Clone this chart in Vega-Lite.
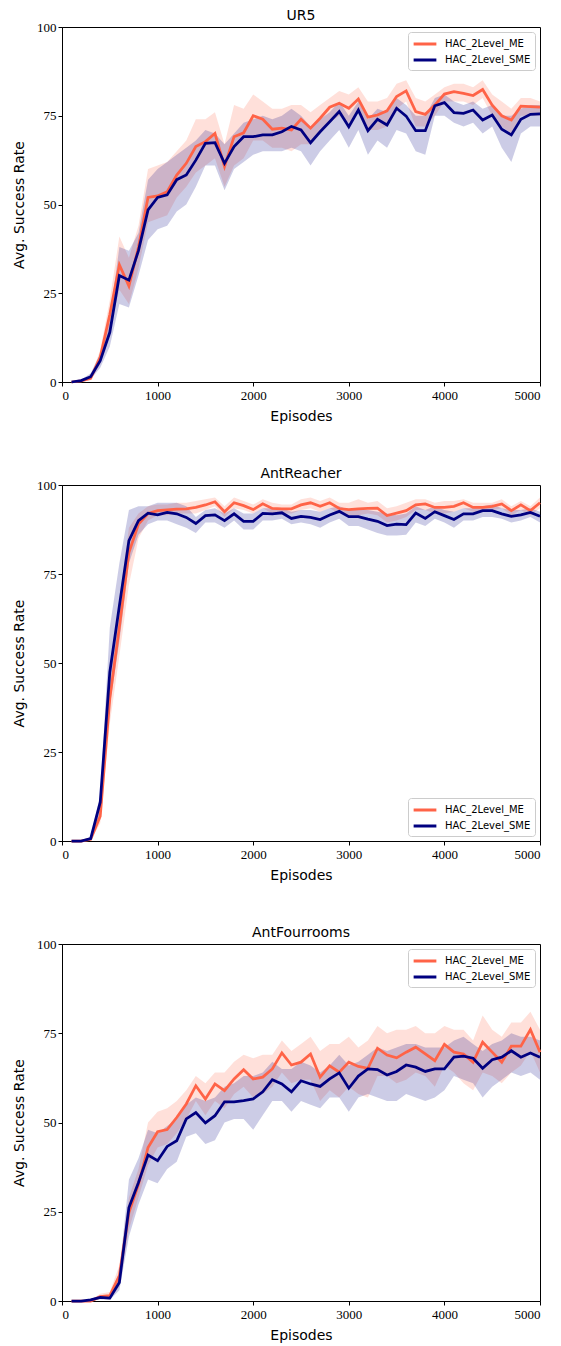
{
  "$schema": "https://vega.github.io/schema/vega-lite/v6.json",
  "padding": {"left": 12, "top": 8, "right": 6, "bottom": 5},
  "background": "white",
  "spacing": 42,
  "config": {
    "view": {"stroke": "black", "strokeWidth": 1},
    "axis": {"labelFont": "Liberation Serif", "labelFontSize": 13, "labelColor": "black", "titleFont": "DejaVu Sans", "titleFontSize": 14, "titleFontWeight": "normal", "titleColor": "black", "tickColor": "black", "domainColor": "black", "tickSize": 4, "labelPadding": 2, "grid": false},
    "title": {"font": "DejaVu Sans", "fontSize": 14, "fontWeight": "normal", "color": "black", "offset": -2},
    "legend": {"labelFont": "DejaVu Sans", "labelFontSize": 10, "labelColor": "black", "strokeColor": "#cccccc", "fillColor": "white", "cornerRadius": 3, "padding": 4, "rowPadding": 2, "symbolSize": 169, "symbolType": "M-1.75,0H1.75", "symbolStrokeWidth": 3, "labelOffset": 12, "symbolOffset": 5, "offset": 5}
  },
  "data": {"values": [
{"e":"UR5","s":"HAC_2Level_ME","x":100,"m":0,"l":0,"h":0},
{"e":"UR5","s":"HAC_2Level_ME","x":200,"m":0.3,"l":0,"h":0.5},
{"e":"UR5","s":"HAC_2Level_ME","x":300,"m":1,"l":0.5,"h":1.5},
{"e":"UR5","s":"HAC_2Level_ME","x":400,"m":7,"l":5,"h":9},
{"e":"UR5","s":"HAC_2Level_ME","x":500,"m":19,"l":15,"h":23},
{"e":"UR5","s":"HAC_2Level_ME","x":600,"m":33,"l":26,"h":41},
{"e":"UR5","s":"HAC_2Level_ME","x":700,"m":27,"l":22,"h":35},
{"e":"UR5","s":"HAC_2Level_ME","x":800,"m":38,"l":32,"h":44},
{"e":"UR5","s":"HAC_2Level_ME","x":900,"m":52,"l":45,"h":60},
{"e":"UR5","s":"HAC_2Level_ME","x":1000,"m":52.4,"l":46,"h":61},
{"e":"UR5","s":"HAC_2Level_ME","x":1100,"m":53.6,"l":47,"h":62},
{"e":"UR5","s":"HAC_2Level_ME","x":1200,"m":58.3,"l":52,"h":65},
{"e":"UR5","s":"HAC_2Level_ME","x":1300,"m":61.6,"l":55,"h":68},
{"e":"UR5","s":"HAC_2Level_ME","x":1400,"m":66.3,"l":59,"h":74},
{"e":"UR5","s":"HAC_2Level_ME","x":1500,"m":67.7,"l":61,"h":74},
{"e":"UR5","s":"HAC_2Level_ME","x":1600,"m":70,"l":63,"h":76},
{"e":"UR5","s":"HAC_2Level_ME","x":1700,"m":60.7,"l":55,"h":67},
{"e":"UR5","s":"HAC_2Level_ME","x":1800,"m":69.1,"l":61,"h":78},
{"e":"UR5","s":"HAC_2Level_ME","x":1900,"m":70.2,"l":63,"h":77},
{"e":"UR5","s":"HAC_2Level_ME","x":2000,"m":75,"l":68,"h":81},
{"e":"UR5","s":"HAC_2Level_ME","x":2100,"m":74,"l":68,"h":79},
{"e":"UR5","s":"HAC_2Level_ME","x":2200,"m":71.2,"l":66,"h":77},
{"e":"UR5","s":"HAC_2Level_ME","x":2300,"m":71.5,"l":66,"h":77},
{"e":"UR5","s":"HAC_2Level_ME","x":2400,"m":71,"l":65,"h":78},
{"e":"UR5","s":"HAC_2Level_ME","x":2500,"m":74,"l":67,"h":78},
{"e":"UR5","s":"HAC_2Level_ME","x":2600,"m":71.5,"l":67,"h":76},
{"e":"UR5","s":"HAC_2Level_ME","x":2700,"m":74.3,"l":70,"h":78},
{"e":"UR5","s":"HAC_2Level_ME","x":2800,"m":77.4,"l":73,"h":80},
{"e":"UR5","s":"HAC_2Level_ME","x":2900,"m":78.5,"l":75,"h":82},
{"e":"UR5","s":"HAC_2Level_ME","x":3000,"m":77.1,"l":73,"h":81},
{"e":"UR5","s":"HAC_2Level_ME","x":3100,"m":79.7,"l":76,"h":83},
{"e":"UR5","s":"HAC_2Level_ME","x":3200,"m":74.6,"l":71,"h":79},
{"e":"UR5","s":"HAC_2Level_ME","x":3300,"m":75.2,"l":71,"h":79},
{"e":"UR5","s":"HAC_2Level_ME","x":3400,"m":76.4,"l":72,"h":80},
{"e":"UR5","s":"HAC_2Level_ME","x":3500,"m":80.4,"l":77,"h":84},
{"e":"UR5","s":"HAC_2Level_ME","x":3600,"m":82,"l":79,"h":85},
{"e":"UR5","s":"HAC_2Level_ME","x":3700,"m":76.2,"l":72,"h":80},
{"e":"UR5","s":"HAC_2Level_ME","x":3800,"m":75.4,"l":72,"h":79},
{"e":"UR5","s":"HAC_2Level_ME","x":3900,"m":78,"l":75,"h":81},
{"e":"UR5","s":"HAC_2Level_ME","x":4000,"m":81.1,"l":79,"h":83},
{"e":"UR5","s":"HAC_2Level_ME","x":4100,"m":81.8,"l":79,"h":84},
{"e":"UR5","s":"HAC_2Level_ME","x":4200,"m":81.3,"l":79,"h":84},
{"e":"UR5","s":"HAC_2Level_ME","x":4300,"m":80.7,"l":78,"h":83},
{"e":"UR5","s":"HAC_2Level_ME","x":4400,"m":82.4,"l":80,"h":85},
{"e":"UR5","s":"HAC_2Level_ME","x":4500,"m":78,"l":75,"h":81},
{"e":"UR5","s":"HAC_2Level_ME","x":4600,"m":75,"l":72,"h":79},
{"e":"UR5","s":"HAC_2Level_ME","x":4700,"m":73.8,"l":70,"h":77},
{"e":"UR5","s":"HAC_2Level_ME","x":4800,"m":77.7,"l":75,"h":80},
{"e":"UR5","s":"HAC_2Level_ME","x":4900,"m":77.6,"l":75,"h":80},
{"e":"UR5","s":"HAC_2Level_ME","x":5000,"m":77.4,"l":75,"h":79},
{"e":"UR5","s":"HAC_2Level_SME","x":100,"m":0,"l":0,"h":0},
{"e":"UR5","s":"HAC_2Level_SME","x":200,"m":0.4,"l":0.2,"h":0.6},
{"e":"UR5","s":"HAC_2Level_SME","x":300,"m":1.5,"l":0.8,"h":2.5},
{"e":"UR5","s":"HAC_2Level_SME","x":400,"m":6,"l":4,"h":8},
{"e":"UR5","s":"HAC_2Level_SME","x":500,"m":14,"l":10,"h":18},
{"e":"UR5","s":"HAC_2Level_SME","x":600,"m":30,"l":22,"h":38},
{"e":"UR5","s":"HAC_2Level_SME","x":700,"m":28.7,"l":21,"h":37},
{"e":"UR5","s":"HAC_2Level_SME","x":800,"m":37,"l":30,"h":42},
{"e":"UR5","s":"HAC_2Level_SME","x":900,"m":48.5,"l":40,"h":57},
{"e":"UR5","s":"HAC_2Level_SME","x":1000,"m":52,"l":43,"h":60},
{"e":"UR5","s":"HAC_2Level_SME","x":1100,"m":52.7,"l":44,"h":62},
{"e":"UR5","s":"HAC_2Level_SME","x":1200,"m":57,"l":48,"h":64},
{"e":"UR5","s":"HAC_2Level_SME","x":1300,"m":58.3,"l":50,"h":66},
{"e":"UR5","s":"HAC_2Level_SME","x":1400,"m":62.5,"l":55,"h":68},
{"e":"UR5","s":"HAC_2Level_SME","x":1500,"m":67.2,"l":61,"h":71},
{"e":"UR5","s":"HAC_2Level_SME","x":1600,"m":67.4,"l":61,"h":70},
{"e":"UR5","s":"HAC_2Level_SME","x":1700,"m":61.6,"l":54,"h":67},
{"e":"UR5","s":"HAC_2Level_SME","x":1800,"m":66.3,"l":60,"h":70},
{"e":"UR5","s":"HAC_2Level_SME","x":1900,"m":69.1,"l":62,"h":73},
{"e":"UR5","s":"HAC_2Level_SME","x":2000,"m":69.1,"l":64,"h":74},
{"e":"UR5","s":"HAC_2Level_SME","x":2100,"m":69.6,"l":65,"h":75},
{"e":"UR5","s":"HAC_2Level_SME","x":2200,"m":69.6,"l":65,"h":74},
{"e":"UR5","s":"HAC_2Level_SME","x":2300,"m":70.5,"l":65,"h":75},
{"e":"UR5","s":"HAC_2Level_SME","x":2400,"m":72,"l":66,"h":77},
{"e":"UR5","s":"HAC_2Level_SME","x":2500,"m":71,"l":65,"h":75},
{"e":"UR5","s":"HAC_2Level_SME","x":2600,"m":67.4,"l":61,"h":72},
{"e":"UR5","s":"HAC_2Level_SME","x":2700,"m":70.5,"l":65,"h":74},
{"e":"UR5","s":"HAC_2Level_SME","x":2800,"m":73.3,"l":68,"h":76},
{"e":"UR5","s":"HAC_2Level_SME","x":2900,"m":76.2,"l":71,"h":79},
{"e":"UR5","s":"HAC_2Level_SME","x":3000,"m":71.9,"l":66,"h":75},
{"e":"UR5","s":"HAC_2Level_SME","x":3100,"m":76.6,"l":71,"h":79},
{"e":"UR5","s":"HAC_2Level_SME","x":3200,"m":70.8,"l":64,"h":74},
{"e":"UR5","s":"HAC_2Level_SME","x":3300,"m":74,"l":68,"h":77},
{"e":"UR5","s":"HAC_2Level_SME","x":3400,"m":72.4,"l":66,"h":76},
{"e":"UR5","s":"HAC_2Level_SME","x":3500,"m":77.1,"l":71,"h":80},
{"e":"UR5","s":"HAC_2Level_SME","x":3600,"m":74.9,"l":70,"h":78},
{"e":"UR5","s":"HAC_2Level_SME","x":3700,"m":70.8,"l":65,"h":75},
{"e":"UR5","s":"HAC_2Level_SME","x":3800,"m":70.8,"l":64,"h":75},
{"e":"UR5","s":"HAC_2Level_SME","x":3900,"m":77.8,"l":75,"h":80},
{"e":"UR5","s":"HAC_2Level_SME","x":4000,"m":78.7,"l":75,"h":81},
{"e":"UR5","s":"HAC_2Level_SME","x":4100,"m":75.9,"l":73,"h":79},
{"e":"UR5","s":"HAC_2Level_SME","x":4200,"m":75.7,"l":72,"h":78},
{"e":"UR5","s":"HAC_2Level_SME","x":4300,"m":76.6,"l":73,"h":79},
{"e":"UR5","s":"HAC_2Level_SME","x":4400,"m":73.8,"l":70,"h":77},
{"e":"UR5","s":"HAC_2Level_SME","x":4500,"m":75.2,"l":72,"h":78},
{"e":"UR5","s":"HAC_2Level_SME","x":4600,"m":71.2,"l":66,"h":75},
{"e":"UR5","s":"HAC_2Level_SME","x":4700,"m":69.6,"l":62,"h":75},
{"e":"UR5","s":"HAC_2Level_SME","x":4800,"m":74,"l":70,"h":77},
{"e":"UR5","s":"HAC_2Level_SME","x":4900,"m":75.4,"l":72,"h":78},
{"e":"UR5","s":"HAC_2Level_SME","x":5000,"m":75.5,"l":72,"h":78},
{"e":"AntReacher","s":"HAC_2Level_ME","x":100,"m":0,"l":0,"h":0},
{"e":"AntReacher","s":"HAC_2Level_ME","x":200,"m":0,"l":0,"h":0},
{"e":"AntReacher","s":"HAC_2Level_ME","x":300,"m":0.5,"l":0.2,"h":0.8},
{"e":"AntReacher","s":"HAC_2Level_ME","x":400,"m":7,"l":5,"h":9},
{"e":"AntReacher","s":"HAC_2Level_ME","x":500,"m":40,"l":33,"h":45},
{"e":"AntReacher","s":"HAC_2Level_ME","x":600,"m":60,"l":52,"h":68},
{"e":"AntReacher","s":"HAC_2Level_ME","x":700,"m":81,"l":72,"h":88},
{"e":"AntReacher","s":"HAC_2Level_ME","x":800,"m":89,"l":85,"h":92},
{"e":"AntReacher","s":"HAC_2Level_ME","x":900,"m":92,"l":90,"h":94},
{"e":"AntReacher","s":"HAC_2Level_ME","x":1000,"m":92.8,"l":91.5,"h":94.5},
{"e":"AntReacher","s":"HAC_2Level_ME","x":1100,"m":93,"l":91.5,"h":94.5},
{"e":"AntReacher","s":"HAC_2Level_ME","x":1200,"m":93.2,"l":92,"h":95},
{"e":"AntReacher","s":"HAC_2Level_ME","x":1300,"m":93.3,"l":92,"h":95},
{"e":"AntReacher","s":"HAC_2Level_ME","x":1400,"m":93.7,"l":92,"h":95.5},
{"e":"AntReacher","s":"HAC_2Level_ME","x":1500,"m":94.4,"l":93,"h":96},
{"e":"AntReacher","s":"HAC_2Level_ME","x":1600,"m":95.3,"l":94,"h":96.5},
{"e":"AntReacher","s":"HAC_2Level_ME","x":1700,"m":92.5,"l":91,"h":94},
{"e":"AntReacher","s":"HAC_2Level_ME","x":1800,"m":95,"l":93.5,"h":96.5},
{"e":"AntReacher","s":"HAC_2Level_ME","x":1900,"m":94.2,"l":93,"h":95.5},
{"e":"AntReacher","s":"HAC_2Level_ME","x":2000,"m":93.1,"l":92,"h":94.5},
{"e":"AntReacher","s":"HAC_2Level_ME","x":2100,"m":94.7,"l":93.5,"h":96},
{"e":"AntReacher","s":"HAC_2Level_ME","x":2200,"m":93.4,"l":92,"h":95},
{"e":"AntReacher","s":"HAC_2Level_ME","x":2300,"m":93.3,"l":92,"h":94.5},
{"e":"AntReacher","s":"HAC_2Level_ME","x":2400,"m":93.3,"l":92,"h":94.5},
{"e":"AntReacher","s":"HAC_2Level_ME","x":2500,"m":94.4,"l":93,"h":96},
{"e":"AntReacher","s":"HAC_2Level_ME","x":2600,"m":95,"l":93.5,"h":96.5},
{"e":"AntReacher","s":"HAC_2Level_ME","x":2700,"m":94,"l":92.5,"h":95.5},
{"e":"AntReacher","s":"HAC_2Level_ME","x":2800,"m":95,"l":93.5,"h":96.5},
{"e":"AntReacher","s":"HAC_2Level_ME","x":2900,"m":93.4,"l":92,"h":95},
{"e":"AntReacher","s":"HAC_2Level_ME","x":3000,"m":93.1,"l":91.5,"h":95},
{"e":"AntReacher","s":"HAC_2Level_ME","x":3100,"m":93.3,"l":91.5,"h":96},
{"e":"AntReacher","s":"HAC_2Level_ME","x":3200,"m":93.4,"l":92,"h":95},
{"e":"AntReacher","s":"HAC_2Level_ME","x":3300,"m":93.5,"l":91.5,"h":95.5},
{"e":"AntReacher","s":"HAC_2Level_ME","x":3400,"m":91.4,"l":89.5,"h":93.5},
{"e":"AntReacher","s":"HAC_2Level_ME","x":3500,"m":92.1,"l":90,"h":94},
{"e":"AntReacher","s":"HAC_2Level_ME","x":3600,"m":92.8,"l":91,"h":95},
{"e":"AntReacher","s":"HAC_2Level_ME","x":3700,"m":94.4,"l":93,"h":96},
{"e":"AntReacher","s":"HAC_2Level_ME","x":3800,"m":94.7,"l":93,"h":96},
{"e":"AntReacher","s":"HAC_2Level_ME","x":3900,"m":93.7,"l":92,"h":95},
{"e":"AntReacher","s":"HAC_2Level_ME","x":4000,"m":93.7,"l":92,"h":95.5},
{"e":"AntReacher","s":"HAC_2Level_ME","x":4100,"m":94,"l":92.5,"h":95.5},
{"e":"AntReacher","s":"HAC_2Level_ME","x":4200,"m":95,"l":93.5,"h":96},
{"e":"AntReacher","s":"HAC_2Level_ME","x":4300,"m":93.7,"l":92.5,"h":95},
{"e":"AntReacher","s":"HAC_2Level_ME","x":4400,"m":93.7,"l":92.5,"h":95},
{"e":"AntReacher","s":"HAC_2Level_ME","x":4500,"m":94,"l":93,"h":95},
{"e":"AntReacher","s":"HAC_2Level_ME","x":4600,"m":94.7,"l":93.5,"h":96},
{"e":"AntReacher","s":"HAC_2Level_ME","x":4700,"m":92.8,"l":91.5,"h":94},
{"e":"AntReacher","s":"HAC_2Level_ME","x":4800,"m":94.4,"l":93,"h":95.5},
{"e":"AntReacher","s":"HAC_2Level_ME","x":4900,"m":92.8,"l":91.5,"h":94},
{"e":"AntReacher","s":"HAC_2Level_ME","x":5000,"m":95,"l":93.5,"h":96.5},
{"e":"AntReacher","s":"HAC_2Level_SME","x":100,"m":0,"l":0,"h":0},
{"e":"AntReacher","s":"HAC_2Level_SME","x":200,"m":0,"l":0,"h":0},
{"e":"AntReacher","s":"HAC_2Level_SME","x":300,"m":0.7,"l":0.3,"h":1.2},
{"e":"AntReacher","s":"HAC_2Level_SME","x":400,"m":10.9,"l":8,"h":13},
{"e":"AntReacher","s":"HAC_2Level_SME","x":500,"m":47.4,"l":38,"h":60},
{"e":"AntReacher","s":"HAC_2Level_SME","x":600,"m":66,"l":56,"h":78},
{"e":"AntReacher","s":"HAC_2Level_SME","x":700,"m":84.4,"l":78,"h":93},
{"e":"AntReacher","s":"HAC_2Level_SME","x":800,"m":90,"l":86,"h":94},
{"e":"AntReacher","s":"HAC_2Level_SME","x":900,"m":92.1,"l":89,"h":94},
{"e":"AntReacher","s":"HAC_2Level_SME","x":1000,"m":91.6,"l":90,"h":95},
{"e":"AntReacher","s":"HAC_2Level_SME","x":1100,"m":92.3,"l":90,"h":95},
{"e":"AntReacher","s":"HAC_2Level_SME","x":1200,"m":91.9,"l":89,"h":95},
{"e":"AntReacher","s":"HAC_2Level_SME","x":1300,"m":90.9,"l":88,"h":94},
{"e":"AntReacher","s":"HAC_2Level_SME","x":1400,"m":89.2,"l":86.5,"h":91},
{"e":"AntReacher","s":"HAC_2Level_SME","x":1500,"m":91.4,"l":89.5,"h":93},
{"e":"AntReacher","s":"HAC_2Level_SME","x":1600,"m":91.6,"l":89.5,"h":93.5},
{"e":"AntReacher","s":"HAC_2Level_SME","x":1700,"m":90,"l":88,"h":92},
{"e":"AntReacher","s":"HAC_2Level_SME","x":1800,"m":91.9,"l":90,"h":93.5},
{"e":"AntReacher","s":"HAC_2Level_SME","x":1900,"m":89.8,"l":87.5,"h":92},
{"e":"AntReacher","s":"HAC_2Level_SME","x":2000,"m":89.8,"l":87.5,"h":92},
{"e":"AntReacher","s":"HAC_2Level_SME","x":2100,"m":92,"l":90,"h":93.5},
{"e":"AntReacher","s":"HAC_2Level_SME","x":2200,"m":91.9,"l":90,"h":93.5},
{"e":"AntReacher","s":"HAC_2Level_SME","x":2300,"m":92.2,"l":90.5,"h":93.5},
{"e":"AntReacher","s":"HAC_2Level_SME","x":2400,"m":90.6,"l":89,"h":92.5},
{"e":"AntReacher","s":"HAC_2Level_SME","x":2500,"m":91.2,"l":89.5,"h":93},
{"e":"AntReacher","s":"HAC_2Level_SME","x":2600,"m":90.9,"l":89,"h":93},
{"e":"AntReacher","s":"HAC_2Level_SME","x":2700,"m":90.3,"l":88,"h":92.5},
{"e":"AntReacher","s":"HAC_2Level_SME","x":2800,"m":91.6,"l":89.5,"h":93.5},
{"e":"AntReacher","s":"HAC_2Level_SME","x":2900,"m":92.6,"l":90.5,"h":94},
{"e":"AntReacher","s":"HAC_2Level_SME","x":3000,"m":91.1,"l":88.5,"h":93},
{"e":"AntReacher","s":"HAC_2Level_SME","x":3100,"m":91.1,"l":88.5,"h":93},
{"e":"AntReacher","s":"HAC_2Level_SME","x":3200,"m":90.4,"l":87.5,"h":93},
{"e":"AntReacher","s":"HAC_2Level_SME","x":3300,"m":89.8,"l":86.5,"h":92.5},
{"e":"AntReacher","s":"HAC_2Level_SME","x":3400,"m":88.6,"l":85.8,"h":92},
{"e":"AntReacher","s":"HAC_2Level_SME","x":3500,"m":89,"l":85.8,"h":91.5},
{"e":"AntReacher","s":"HAC_2Level_SME","x":3600,"m":88.9,"l":86,"h":92},
{"e":"AntReacher","s":"HAC_2Level_SME","x":3700,"m":92.1,"l":89.5,"h":94},
{"e":"AntReacher","s":"HAC_2Level_SME","x":3800,"m":90.6,"l":88.5,"h":93},
{"e":"AntReacher","s":"HAC_2Level_SME","x":3900,"m":92.5,"l":90.5,"h":94},
{"e":"AntReacher","s":"HAC_2Level_SME","x":4000,"m":91.4,"l":89.5,"h":93},
{"e":"AntReacher","s":"HAC_2Level_SME","x":4100,"m":90.3,"l":88,"h":92.5},
{"e":"AntReacher","s":"HAC_2Level_SME","x":4200,"m":91.9,"l":90,"h":93.5},
{"e":"AntReacher","s":"HAC_2Level_SME","x":4300,"m":91.9,"l":90,"h":93.5},
{"e":"AntReacher","s":"HAC_2Level_SME","x":4400,"m":92.8,"l":91,"h":94},
{"e":"AntReacher","s":"HAC_2Level_SME","x":4500,"m":92.8,"l":91,"h":94.5},
{"e":"AntReacher","s":"HAC_2Level_SME","x":4600,"m":91.9,"l":90.5,"h":93.5},
{"e":"AntReacher","s":"HAC_2Level_SME","x":4700,"m":91.2,"l":89.5,"h":93},
{"e":"AntReacher","s":"HAC_2Level_SME","x":4800,"m":91.6,"l":90,"h":93},
{"e":"AntReacher","s":"HAC_2Level_SME","x":4900,"m":92.3,"l":91,"h":93.5},
{"e":"AntReacher","s":"HAC_2Level_SME","x":5000,"m":91.2,"l":89.5,"h":92.5},
{"e":"AntFourrooms","s":"HAC_2Level_ME","x":100,"m":0,"l":0,"h":0},
{"e":"AntFourrooms","s":"HAC_2Level_ME","x":200,"m":0,"l":0,"h":0},
{"e":"AntFourrooms","s":"HAC_2Level_ME","x":300,"m":0,"l":0,"h":0.2},
{"e":"AntFourrooms","s":"HAC_2Level_ME","x":400,"m":1.2,"l":0.5,"h":2},
{"e":"AntFourrooms","s":"HAC_2Level_ME","x":500,"m":1.5,"l":0.5,"h":2.5},
{"e":"AntFourrooms","s":"HAC_2Level_ME","x":600,"m":7.1,"l":4,"h":10},
{"e":"AntFourrooms","s":"HAC_2Level_ME","x":700,"m":24.8,"l":20,"h":29},
{"e":"AntFourrooms","s":"HAC_2Level_ME","x":800,"m":32.7,"l":29,"h":37},
{"e":"AntFourrooms","s":"HAC_2Level_ME","x":900,"m":43,"l":38,"h":50},
{"e":"AntFourrooms","s":"HAC_2Level_ME","x":1000,"m":47.4,"l":43,"h":53},
{"e":"AntFourrooms","s":"HAC_2Level_ME","x":1100,"m":48,"l":44,"h":54},
{"e":"AntFourrooms","s":"HAC_2Level_ME","x":1200,"m":51.4,"l":47,"h":56},
{"e":"AntFourrooms","s":"HAC_2Level_ME","x":1300,"m":55.2,"l":51,"h":59},
{"e":"AntFourrooms","s":"HAC_2Level_ME","x":1400,"m":60.3,"l":56,"h":63},
{"e":"AntFourrooms","s":"HAC_2Level_ME","x":1500,"m":56.6,"l":52,"h":61},
{"e":"AntFourrooms","s":"HAC_2Level_ME","x":1600,"m":60.8,"l":56,"h":64},
{"e":"AntFourrooms","s":"HAC_2Level_ME","x":1700,"m":58.9,"l":54,"h":64},
{"e":"AntFourrooms","s":"HAC_2Level_ME","x":1800,"m":62.2,"l":58,"h":67},
{"e":"AntFourrooms","s":"HAC_2Level_ME","x":1900,"m":64.8,"l":60,"h":69},
{"e":"AntFourrooms","s":"HAC_2Level_ME","x":2000,"m":62.2,"l":57,"h":68},
{"e":"AntFourrooms","s":"HAC_2Level_ME","x":2100,"m":62.7,"l":58,"h":69},
{"e":"AntFourrooms","s":"HAC_2Level_ME","x":2200,"m":65,"l":60,"h":69},
{"e":"AntFourrooms","s":"HAC_2Level_ME","x":2300,"m":69.5,"l":64,"h":73},
{"e":"AntFourrooms","s":"HAC_2Level_ME","x":2400,"m":66.1,"l":61,"h":70},
{"e":"AntFourrooms","s":"HAC_2Level_ME","x":2500,"m":66.9,"l":62,"h":72},
{"e":"AntFourrooms","s":"HAC_2Level_ME","x":2600,"m":69.2,"l":62,"h":74},
{"e":"AntFourrooms","s":"HAC_2Level_ME","x":2700,"m":62.7,"l":56,"h":70},
{"e":"AntFourrooms","s":"HAC_2Level_ME","x":2800,"m":65.9,"l":59,"h":72},
{"e":"AntFourrooms","s":"HAC_2Level_ME","x":2900,"m":64.1,"l":57,"h":72},
{"e":"AntFourrooms","s":"HAC_2Level_ME","x":3000,"m":66.9,"l":60,"h":74},
{"e":"AntFourrooms","s":"HAC_2Level_ME","x":3100,"m":65.7,"l":58,"h":71},
{"e":"AntFourrooms","s":"HAC_2Level_ME","x":3200,"m":65.2,"l":57,"h":73},
{"e":"AntFourrooms","s":"HAC_2Level_ME","x":3300,"m":70.8,"l":63,"h":77},
{"e":"AntFourrooms","s":"HAC_2Level_ME","x":3400,"m":68.9,"l":63,"h":75},
{"e":"AntFourrooms","s":"HAC_2Level_ME","x":3500,"m":68.1,"l":61,"h":76},
{"e":"AntFourrooms","s":"HAC_2Level_ME","x":3600,"m":69.7,"l":62,"h":76},
{"e":"AntFourrooms","s":"HAC_2Level_ME","x":3700,"m":71.1,"l":64,"h":77},
{"e":"AntFourrooms","s":"HAC_2Level_ME","x":3800,"m":69.2,"l":63,"h":75},
{"e":"AntFourrooms","s":"HAC_2Level_ME","x":3900,"m":67.3,"l":60,"h":75},
{"e":"AntFourrooms","s":"HAC_2Level_ME","x":4000,"m":71.9,"l":66,"h":77},
{"e":"AntFourrooms","s":"HAC_2Level_ME","x":4100,"m":69.7,"l":64,"h":76},
{"e":"AntFourrooms","s":"HAC_2Level_ME","x":4200,"m":69.2,"l":61,"h":76},
{"e":"AntFourrooms","s":"HAC_2Level_ME","x":4300,"m":66.9,"l":59,"h":73},
{"e":"AntFourrooms","s":"HAC_2Level_ME","x":4400,"m":72.5,"l":64,"h":80},
{"e":"AntFourrooms","s":"HAC_2Level_ME","x":4500,"m":69.7,"l":63,"h":76},
{"e":"AntFourrooms","s":"HAC_2Level_ME","x":4600,"m":66.9,"l":61,"h":74},
{"e":"AntFourrooms","s":"HAC_2Level_ME","x":4700,"m":71.4,"l":64,"h":78},
{"e":"AntFourrooms","s":"HAC_2Level_ME","x":4800,"m":71.4,"l":66,"h":78},
{"e":"AntFourrooms","s":"HAC_2Level_ME","x":4900,"m":76,"l":70,"h":81},
{"e":"AntFourrooms","s":"HAC_2Level_ME","x":5000,"m":69.7,"l":64,"h":76},
{"e":"AntFourrooms","s":"HAC_2Level_SME","x":100,"m":0,"l":0,"h":0},
{"e":"AntFourrooms","s":"HAC_2Level_SME","x":200,"m":0,"l":0,"h":0},
{"e":"AntFourrooms","s":"HAC_2Level_SME","x":300,"m":0.3,"l":0,"h":0.6},
{"e":"AntFourrooms","s":"HAC_2Level_SME","x":400,"m":1,"l":0.5,"h":1.5},
{"e":"AntFourrooms","s":"HAC_2Level_SME","x":500,"m":0.8,"l":0.3,"h":1.5},
{"e":"AntFourrooms","s":"HAC_2Level_SME","x":600,"m":5.2,"l":3,"h":8},
{"e":"AntFourrooms","s":"HAC_2Level_SME","x":700,"m":26.2,"l":18,"h":34},
{"e":"AntFourrooms","s":"HAC_2Level_SME","x":800,"m":33.2,"l":27,"h":40},
{"e":"AntFourrooms","s":"HAC_2Level_SME","x":900,"m":40.9,"l":34,"h":48},
{"e":"AntFourrooms","s":"HAC_2Level_SME","x":1000,"m":39.3,"l":33,"h":47},
{"e":"AntFourrooms","s":"HAC_2Level_SME","x":1100,"m":43.3,"l":37,"h":49},
{"e":"AntFourrooms","s":"HAC_2Level_SME","x":1200,"m":44.9,"l":39,"h":51},
{"e":"AntFourrooms","s":"HAC_2Level_SME","x":1300,"m":51,"l":46,"h":55},
{"e":"AntFourrooms","s":"HAC_2Level_SME","x":1400,"m":52.8,"l":47,"h":57},
{"e":"AntFourrooms","s":"HAC_2Level_SME","x":1500,"m":49.9,"l":44,"h":56},
{"e":"AntFourrooms","s":"HAC_2Level_SME","x":1600,"m":51.9,"l":45,"h":57},
{"e":"AntFourrooms","s":"HAC_2Level_SME","x":1700,"m":55.8,"l":50,"h":60},
{"e":"AntFourrooms","s":"HAC_2Level_SME","x":1800,"m":55.8,"l":51,"h":61},
{"e":"AntFourrooms","s":"HAC_2Level_SME","x":1900,"m":56.1,"l":51,"h":63},
{"e":"AntFourrooms","s":"HAC_2Level_SME","x":2000,"m":56.6,"l":48,"h":63},
{"e":"AntFourrooms","s":"HAC_2Level_SME","x":2100,"m":58.6,"l":52,"h":64},
{"e":"AntFourrooms","s":"HAC_2Level_SME","x":2200,"m":62,"l":56,"h":67},
{"e":"AntFourrooms","s":"HAC_2Level_SME","x":2300,"m":60.8,"l":56,"h":65},
{"e":"AntFourrooms","s":"HAC_2Level_SME","x":2400,"m":58.6,"l":53,"h":65},
{"e":"AntFourrooms","s":"HAC_2Level_SME","x":2500,"m":61.7,"l":56,"h":67},
{"e":"AntFourrooms","s":"HAC_2Level_SME","x":2600,"m":60.8,"l":55,"h":66},
{"e":"AntFourrooms","s":"HAC_2Level_SME","x":2700,"m":60.1,"l":54,"h":64},
{"e":"AntFourrooms","s":"HAC_2Level_SME","x":2800,"m":62.2,"l":57,"h":66},
{"e":"AntFourrooms","s":"HAC_2Level_SME","x":2900,"m":63.9,"l":57,"h":69},
{"e":"AntFourrooms","s":"HAC_2Level_SME","x":3000,"m":59.6,"l":53,"h":66},
{"e":"AntFourrooms","s":"HAC_2Level_SME","x":3100,"m":63,"l":57,"h":67},
{"e":"AntFourrooms","s":"HAC_2Level_SME","x":3200,"m":65,"l":58,"h":69},
{"e":"AntFourrooms","s":"HAC_2Level_SME","x":3300,"m":64.8,"l":57,"h":71},
{"e":"AntFourrooms","s":"HAC_2Level_SME","x":3400,"m":63.3,"l":56,"h":70},
{"e":"AntFourrooms","s":"HAC_2Level_SME","x":3500,"m":64.3,"l":56,"h":71},
{"e":"AntFourrooms","s":"HAC_2Level_SME","x":3600,"m":66.1,"l":58,"h":72},
{"e":"AntFourrooms","s":"HAC_2Level_SME","x":3700,"m":65.5,"l":57,"h":72},
{"e":"AntFourrooms","s":"HAC_2Level_SME","x":3800,"m":64.3,"l":56,"h":71},
{"e":"AntFourrooms","s":"HAC_2Level_SME","x":3900,"m":65,"l":57,"h":71},
{"e":"AntFourrooms","s":"HAC_2Level_SME","x":4000,"m":65,"l":59,"h":71},
{"e":"AntFourrooms","s":"HAC_2Level_SME","x":4100,"m":68.3,"l":63,"h":73},
{"e":"AntFourrooms","s":"HAC_2Level_SME","x":4200,"m":68.6,"l":62,"h":74},
{"e":"AntFourrooms","s":"HAC_2Level_SME","x":4300,"m":68,"l":61,"h":72},
{"e":"AntFourrooms","s":"HAC_2Level_SME","x":4400,"m":65.2,"l":57,"h":70},
{"e":"AntFourrooms","s":"HAC_2Level_SME","x":4500,"m":67.6,"l":60,"h":72},
{"e":"AntFourrooms","s":"HAC_2Level_SME","x":4600,"m":68.3,"l":62,"h":73},
{"e":"AntFourrooms","s":"HAC_2Level_SME","x":4700,"m":70.1,"l":64,"h":75},
{"e":"AntFourrooms","s":"HAC_2Level_SME","x":4800,"m":68.3,"l":63,"h":74},
{"e":"AntFourrooms","s":"HAC_2Level_SME","x":4900,"m":69.5,"l":64,"h":74},
{"e":"AntFourrooms","s":"HAC_2Level_SME","x":5000,"m":68.3,"l":62,"h":73}
  ]},
  "vconcat": [
    {
      "title": "UR5",
      "width": 478, "height": 355,
      "transform": [{"filter": "datum.e === 'UR5'"}],
      "encoding": {
        "x": {"field": "x", "type": "quantitative", "scale": {"domain": [0, 5000], "nice": false}, "axis": {"title": "Episodes", "values": [0, 1000, 2000, 3000, 4000, 5000], "format": "d", "titlePadding": 7, "labelPadding": 3, "labelFont": "Liberation Serif", "labelFontSize": 13, "labelColor": "black"}}
      },
      "layer": [
        {"mark": {"type": "area", "opacity": 0.2},
         "encoding": {
           "y": {"field": "l", "type": "quantitative", "scale": {"domain": [0, 100], "nice": false}, "axis": {"title": "Avg. Success Rate", "values": [0, 25, 50, 75, 100], "titlePadding": 10, "labelFont": "Liberation Serif", "labelFontSize": 13, "labelColor": "black"}},
           "y2": {"field": "h"},
           "fill": {"field": "s", "type": "nominal", "scale": {"domain": ["HAC_2Level_ME", "HAC_2Level_SME"], "range": ["#FF6347", "#000080"]}, "legend": null}
         }},
        {"mark": {"type": "line", "strokeWidth": 2.75},
         "encoding": {
           "y": {"field": "m", "type": "quantitative", "scale": {"domain": [0, 100], "nice": false}, "axis": {"title": "Avg. Success Rate", "values": [0, 25, 50, 75, 100], "titlePadding": 10, "labelFont": "Liberation Serif", "labelFontSize": 13, "labelColor": "black"}},
           "stroke": {"field": "s", "type": "nominal", "scale": {"domain": ["HAC_2Level_ME", "HAC_2Level_SME"], "range": ["#FF6347", "#000080"]}, "legend": {"title": null, "orient": "top-right"}}
         }}
      ]
    },
    {
      "title": "AntReacher",
      "width": 478, "height": 356,
      "transform": [{"filter": "datum.e === 'AntReacher'"}],
      "encoding": {
        "x": {"field": "x", "type": "quantitative", "scale": {"domain": [0, 5000], "nice": false}, "axis": {"title": "Episodes", "values": [0, 1000, 2000, 3000, 4000, 5000], "format": "d", "titlePadding": 7, "labelPadding": 3, "labelFont": "Liberation Serif", "labelFontSize": 13, "labelColor": "black"}}
      },
      "layer": [
        {"mark": {"type": "area", "opacity": 0.2},
         "encoding": {
           "y": {"field": "l", "type": "quantitative", "scale": {"domain": [0, 100], "nice": false}, "axis": {"title": "Avg. Success Rate", "values": [0, 25, 50, 75, 100], "titlePadding": 10, "labelFont": "Liberation Serif", "labelFontSize": 13, "labelColor": "black"}},
           "y2": {"field": "h"},
           "fill": {"field": "s", "type": "nominal", "scale": {"domain": ["HAC_2Level_ME", "HAC_2Level_SME"], "range": ["#FF6347", "#000080"]}, "legend": null}
         }},
        {"mark": {"type": "line", "strokeWidth": 2.75},
         "encoding": {
           "y": {"field": "m", "type": "quantitative", "scale": {"domain": [0, 100], "nice": false}, "axis": {"title": "Avg. Success Rate", "values": [0, 25, 50, 75, 100], "titlePadding": 10, "labelFont": "Liberation Serif", "labelFontSize": 13, "labelColor": "black"}},
           "stroke": {"field": "s", "type": "nominal", "scale": {"domain": ["HAC_2Level_ME", "HAC_2Level_SME"], "range": ["#FF6347", "#000080"]}, "legend": {"title": null, "orient": "bottom-right"}}
         }}
      ]
    },
    {
      "title": "AntFourrooms",
      "width": 478, "height": 357,
      "transform": [{"filter": "datum.e === 'AntFourrooms'"}],
      "encoding": {
        "x": {"field": "x", "type": "quantitative", "scale": {"domain": [0, 5000], "nice": false}, "axis": {"title": "Episodes", "values": [0, 1000, 2000, 3000, 4000, 5000], "format": "d", "titlePadding": 7, "labelPadding": 3, "labelFont": "Liberation Serif", "labelFontSize": 13, "labelColor": "black"}}
      },
      "layer": [
        {"mark": {"type": "area", "opacity": 0.2},
         "encoding": {
           "y": {"field": "l", "type": "quantitative", "scale": {"domain": [0, 100], "nice": false}, "axis": {"title": "Avg. Success Rate", "values": [0, 25, 50, 75, 100], "titlePadding": 10, "labelFont": "Liberation Serif", "labelFontSize": 13, "labelColor": "black"}},
           "y2": {"field": "h"},
           "fill": {"field": "s", "type": "nominal", "scale": {"domain": ["HAC_2Level_ME", "HAC_2Level_SME"], "range": ["#FF6347", "#000080"]}, "legend": null}
         }},
        {"mark": {"type": "line", "strokeWidth": 2.75},
         "encoding": {
           "y": {"field": "m", "type": "quantitative", "scale": {"domain": [0, 100], "nice": false}, "axis": {"title": "Avg. Success Rate", "values": [0, 25, 50, 75, 100], "titlePadding": 10, "labelFont": "Liberation Serif", "labelFontSize": 13, "labelColor": "black"}},
           "stroke": {"field": "s", "type": "nominal", "scale": {"domain": ["HAC_2Level_ME", "HAC_2Level_SME"], "range": ["#FF6347", "#000080"]}, "legend": {"title": null, "orient": "top-right"}}
         }}
      ]
    }
  ]
}
